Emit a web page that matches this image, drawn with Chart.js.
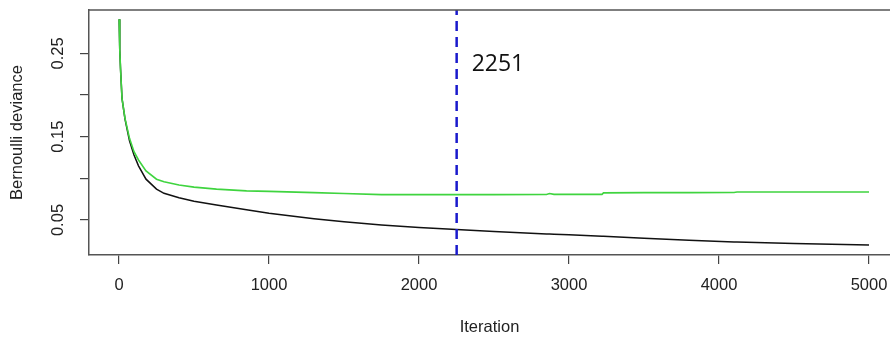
<!DOCTYPE html>
<html>
<head>
<meta charset="utf-8">
<script src="https://cdn.jsdelivr.net/npm/chart.js@4/dist/chart.umd.min.js"></script>
<style>
  html, body { margin: 0; padding: 0; background: #fff; }
  #wrap { width: 890px; height: 339px; position: relative; }
</style>
</head>
<body>
<div id="wrap"><canvas id="perfChart"></canvas></div>
<script>
// --- data (gbm performance plot) ---
const iterations = [1, 5, 10, 20, 40, 70, 100, 130, 180, 250, 300, 400, 500, 650, 850, 1000,
    1300, 1500, 1750, 2000, 2250, 2500, 2850, 2870, 2900, 3000, 3220, 3230, 3500, 3800,
    4100, 4120, 4500, 5000];

// training deviance (black)
const trainDeviance = [0.291, 0.255, 0.232, 0.196, 0.171, 0.145, 0.128, 0.115, 0.099, 0.087,
    0.082, 0.0768, 0.0725, 0.068, 0.0622, 0.0582, 0.0515, 0.0478, 0.0440, 0.0410, 0.0385,
    0.0362, 0.0333, 0.0332, 0.0330, 0.0322, 0.0305, 0.0304, 0.0282, 0.0258, 0.0237, 0.0236,
    0.0218, 0.0200];

// validation deviance (green)
const validDeviance = [0.291, 0.255, 0.232, 0.196, 0.172, 0.148, 0.132, 0.122, 0.109, 0.099,
    0.096, 0.092, 0.0895, 0.087, 0.085, 0.0843, 0.0828, 0.0818, 0.0805, 0.0804, 0.0804,
    0.0804, 0.0806, 0.0818, 0.0808, 0.0808, 0.0808, 0.0826, 0.0828, 0.0828, 0.0830, 0.0836,
    0.0836, 0.0836];

const bestIteration = 2251;

const xTicks = [0, 1000, 2000, 3000, 4000, 5000];
const yTicks = [0.05, 0.10, 0.15, 0.20, 0.25];
const yTickLabels = ['0.05', '', '0.15', '', '0.25'];

const xRange = [-200, 5140];
const yRange = [0.008, 0.302];

const toPoints = (xs, ys) => xs.map((x, i) => ({ x: x, y: ys[i] }));

// Draws the box (top edge) and the label next to the best-iteration line.
const boxAndLabel = {
    id: 'boxAndLabel',
    afterDatasetsDraw(chart) {
        const { ctx, chartArea, scales } = chart;
        ctx.save();
        ctx.strokeStyle = '#555';
        ctx.lineWidth = 1.5;
        ctx.beginPath();
        ctx.moveTo(chartArea.left, chartArea.top);
        ctx.lineTo(chartArea.right, chartArea.top);
        ctx.stroke();

        const x = scales.x.getPixelForValue(bestIteration);
        ctx.fillStyle = '#111';
        ctx.font = '23px "Open Sans"';
        ctx.textAlign = 'left';
        ctx.textBaseline = 'middle';
        ctx.fillText(String(bestIteration), x + 15, chartArea.top + 54);
        ctx.restore();
    }
};

const tickFont = { family: '"Liberation Sans", Arial', size: 16.5 };

new Chart(document.getElementById('perfChart').getContext('2d'), {
    type: 'scatter',
    data: {
        datasets: [
            {
                label: 'best',
                data: [{ x: bestIteration, y: yRange[0] }, { x: bestIteration, y: yRange[1] }],
                showLine: true,
                borderColor: '#1a1acc',
                borderWidth: 2.5,
                borderDash: [10, 6],
                pointRadius: 0
            },
            {
                label: 'valid',
                data: toPoints(iterations, validDeviance),
                showLine: true,
                borderColor: '#3fd43f',
                borderWidth: 1.6,
                pointRadius: 0,
                tension: 0
            },
            {
                label: 'train',
                data: toPoints(iterations, trainDeviance),
                showLine: true,
                borderColor: '#111',
                borderWidth: 1.5,
                pointRadius: 0,
                tension: 0
            }
        ]
    },
    options: {
        responsive: true,
        maintainAspectRatio: false,
        animation: false,
        layout: { padding: { top: 10, right: 0, bottom: 0, left: 0 } },
        plugins: {
            legend: { display: false },
            tooltip: { enabled: false }
        },
        scales: {
            x: {
                type: 'linear',
                min: xRange[0],
                max: xRange[1],
                afterBuildTicks: (scale) => { scale.ticks = xTicks.map(v => ({ value: v })); },
                afterFit: (scale) => {
                    scale.height = 84;
                    scale.paddingLeft = 0;
                    scale.paddingRight = 0;
                },
                grid: { drawOnChartArea: false, drawTicks: true, tickLength: 9, color: '#444', lineWidth: 1.2 },
                border: { display: true, color: '#555', width: 1.5 },
                ticks: {
                    color: '#222',
                    font: tickFont,
                    padding: 12,
                    maxRotation: 0,
                    autoSkip: false,
                    callback: (value) => String(value)
                },
                title: {
                    display: true,
                    text: 'Iteration',
                    color: '#222',
                    font: tickFont,
                    padding: { top: 0, bottom: 2 }
                }
            },
            y: {
                type: 'linear',
                min: yRange[0],
                max: yRange[1],
                afterBuildTicks: (scale) => { scale.ticks = yTicks.map(v => ({ value: v })); },
                afterFit: (scale) => {
                    scale.width = 89;
                    scale.paddingTop = 0;
                    scale.paddingBottom = 0;
                },
                grid: { drawOnChartArea: false, drawTicks: true, tickLength: 9, color: '#444', lineWidth: 1.2 },
                border: { display: true, color: '#555', width: 1.5 },
                ticks: {
                    color: '#222',
                    font: tickFont,
                    padding: 5,
                    minRotation: 90,
                    maxRotation: 90,
                    crossAlign: 'center',
                    autoSkip: false,
                    callback: (value, index) => yTickLabels[index]
                },
                title: {
                    display: true,
                    text: 'Bernoulli deviance',
                    color: '#222',
                    font: tickFont,
                    padding: { top: 8, bottom: 0 }
                }
            }
        }
    },
    plugins: [boxAndLabel]
});
</script>
</body>
</html>
